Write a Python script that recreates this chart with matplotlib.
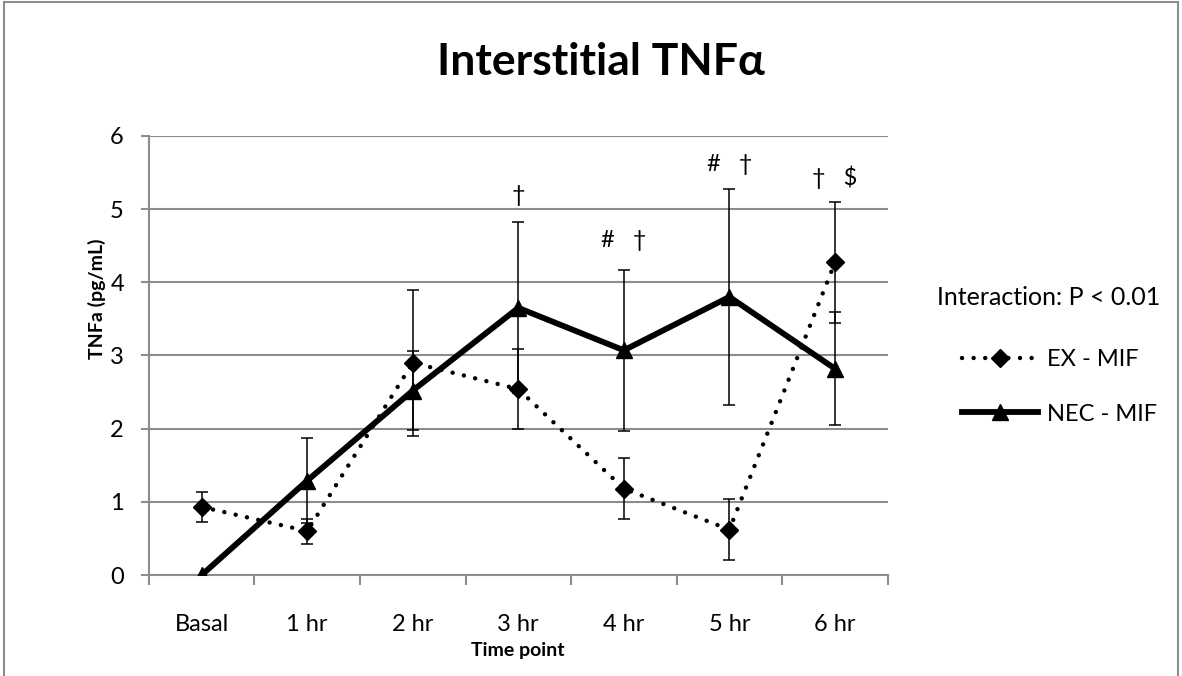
import numpy as np
import matplotlib
matplotlib.use("Agg")
import matplotlib.pyplot as plt
from matplotlib.patches import Rectangle

# ── Data ──────────────────────────────────────────────────────────────────────
time_points = ["Basal", "1 hr", "2 hr", "3 hr", "4 hr", "5 hr", "6 hr"]
ex_mif      = [0.93, 0.60, 2.90, 2.54, 1.18, 0.62, 4.27]
ex_mif_err  = [0.20, 0.17, 1.00, 0.55, 0.42, 0.42, 0.82]
nec_mif     = [0.00, 1.29, 2.52, 3.65, 3.07, 3.80, 2.82]
nec_mif_err = [0.00, 0.58, 0.54, 1.17, 1.10, 1.48, 0.77]

# significance marks above points
sig_idx  = [3, 4, 5, 6]
sig_text = ["\u2020", "#   \u2020", "#   \u2020", "\u2020   $"]
sig_y    = [5.10, 4.48, 5.52, 5.33]

# ── Style ─────────────────────────────────────────────────────────────────────
plt.rcParams.update({
    "font.family": ["Lato", "DejaVu Sans"],
    "font.size": 17,
})
GRID = "#8c8c8c"

fig = plt.figure(figsize=(11.82, 6.76), dpi=100)
ax = fig.add_axes([0.126, 0.1494, 0.625, 0.6496])

x = np.arange(len(time_points))

ax.errorbar(x, ex_mif, yerr=ex_mif_err, fmt="none", ecolor="black",
            elinewidth=1.1, capsize=4.3, capthick=1.1, zorder=3)
ax.errorbar(x[1:], nec_mif[1:], yerr=nec_mif_err[1:], fmt="none", ecolor="black",
            elinewidth=1.1, capsize=4.3, capthick=1.1, zorder=3)

ax.plot(x, ex_mif, color="black", lw=3.2, linestyle=(0, (0.01, 2.6)),
        dash_capstyle="round", marker="D", markersize=9.5, zorder=4,
        label="EX - MIF")
ax.plot(x, nec_mif, color="black", lw=4.2, marker="^", markersize=12,
        zorder=5, label="NEC - MIF")

for i, t, yv in zip(sig_idx, sig_text, sig_y):
    ax.text(x[i], yv, t, ha="center", va="baseline", fontsize=17)

ax.set_xlim(-0.5, len(time_points) - 0.5)
ax.set_ylim(0, 6)
ax.set_yticks(range(0, 7))
ax.set_xticks(x)
ax.set_xticklabels(time_points)
ax.set_xticks(np.arange(-0.5, len(time_points)), minor=True)

ax.yaxis.grid(True, color=GRID, lw=1.5)
ax.set_axisbelow(True)
for s in ["top", "right"]:
    ax.spines[s].set_visible(False)
for s in ["left", "bottom"]:
    ax.spines[s].set_color(GRID)
    ax.spines[s].set_linewidth(1.5)
ax.tick_params(axis="x", which="major", length=0, pad=28, labelsize=17)
ax.tick_params(axis="x", which="minor", length=7, width=1.5, color=GRID)
ax.tick_params(axis="y", length=6, width=1.5, color=GRID, pad=12, labelsize=17)

ax.set_xlabel("Time point", fontweight="bold", fontsize=14)
ax.xaxis.set_label_coords(0.5, -0.152)
ax.set_ylabel("TNFa (pg/mL)", fontweight="bold", fontsize=14)
ax.yaxis.set_label_coords(-0.058, 0.63)

fig.text(0.508, 0.889, "Interstitial TNF\u03b1", ha="center", va="baseline",
         fontsize=32, fontweight="bold")
fig.text(0.793, 0.549, "Interaction: P < 0.01", ha="left", va="baseline",
         fontsize=18)

fig.legend(loc="upper left", bbox_to_anchor=(0.814, 0.483), frameon=False,
           borderpad=0, borderaxespad=0, handlelength=3.2, labelspacing=1.4,
           fontsize=17, handletextpad=0.4)

# outer chart border
fig.patches.append(Rectangle((0.003, -0.05), 0.994, 1.047, transform=fig.transFigure,
                             fill=False, edgecolor=GRID, lw=1.5))

fig.savefig("out.png", dpi=100)
